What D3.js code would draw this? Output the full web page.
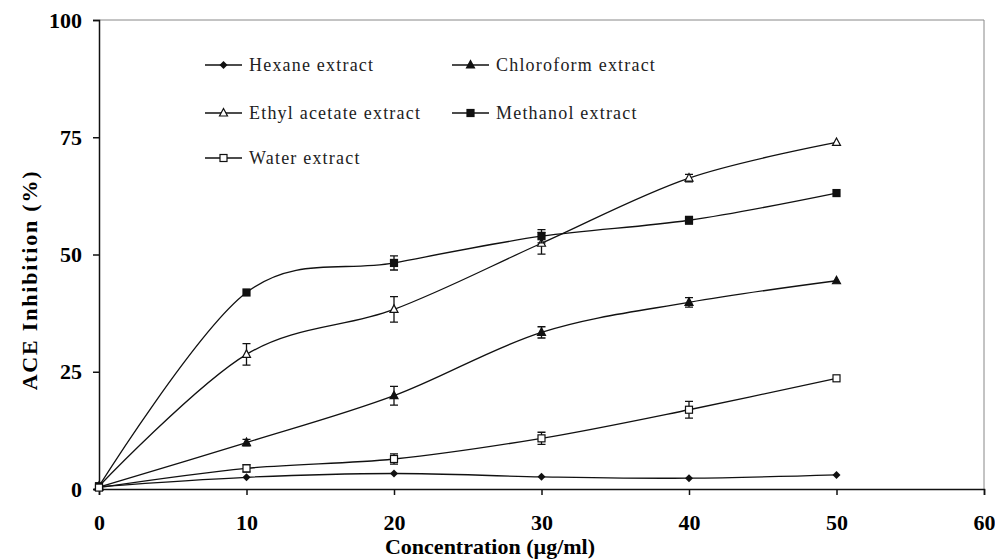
<!DOCTYPE html>
<html><head><meta charset="utf-8">
<script src="https://cdn.jsdelivr.net/npm/d3@7"></script>
<style>body{margin:0;background:#fff}svg{display:block}</style>
</head><body>
<script>
const concentrations = [0, 10, 20, 30, 40, 50];
const xTicks = [0, 10, 20, 30, 40, 50, 60];
const yTicks = [0, 25, 50, 75, 100];
const seriesNames = ["Hexane extract", "Chloroform extract", "Ethyl acetate extract", "Methanol extract", "Water extract"];
const hexane = [0.5, 2.5, 3.3, 2.6, 2.3, 3.0];
const hexaneErr = [0.3, 0.4, 0.4, 0.4, 0.4, 0.3];
const chloroform = [0.4, 9.9, 19.9, 33.4, 39.8, 44.4];
const chloroformErr = [0.3, 0.7, 2.0, 1.2, 1.0, 0.4];
const ethylAcetate = [0.6, 28.7, 38.3, 52.4, 66.3, 73.9];
const ethylAcetateErr = [0.3, 2.3, 2.7, 2.3, 0.8, 0.4];
const methanol = [0.6, 41.9, 48.2, 53.9, 57.3, 63.1];
const methanolErr = [0.3, 0.4, 1.5, 1.4, 0.8, 0.4];
const water = [0.3, 4.4, 6.4, 10.8, 16.9, 23.6];
const waterErr = [0.3, 0.8, 1.1, 1.3, 1.8, 0.4];
const markerTypes = ["diamond", "triangle", "triangleOpen", "square", "squareOpen"];

const W = 995, H = 559;
const svg = d3.select("body").append("svg").attr("width", W).attr("height", H);
const x = d3.scaleLinear().domain([0, 60]).range([99, 984]);
const y = d3.scaleLinear().domain([0, 100]).range([489, 20]);
const ink = "#111";

const series = [
  {name: seriesNames[0], v: hexane, e: hexaneErr, m: markerTypes[0]},
  {name: seriesNames[1], v: chloroform, e: chloroformErr, m: markerTypes[1]},
  {name: seriesNames[2], v: ethylAcetate, e: ethylAcetateErr, m: markerTypes[2]},
  {name: seriesNames[3], v: methanol, e: methanolErr, m: markerTypes[3]},
  {name: seriesNames[4], v: water, e: waterErr, m: markerTypes[4]}
];

// plot frame (top and right light border)
svg.append("path").attr("d", `M${x(0)},${y(100)}H${x(60)}V${y(0)}`)
  .attr("fill", "none").attr("stroke", "#888").attr("stroke-width", 1);

// axes
const xAxis = d3.axisBottom(x).tickValues(xTicks).tickSize(6).tickPadding(19).tickFormat(d3.format("d"));
const gx = svg.append("g").attr("transform", `translate(0,${y(0)})`).call(xAxis);
const yAxis = d3.axisLeft(y).tickValues(yTicks).tickSize(6).tickPadding(11).tickFormat(d3.format("d"));
const gy = svg.append("g").attr("transform", `translate(${x(0)},0)`).call(yAxis);
[gx, gy].forEach(g => {
  g.select(".domain").attr("stroke", ink).attr("stroke-width", 1.5);
  g.selectAll(".tick line").attr("stroke", ink).attr("stroke-width", 1.5);
  g.selectAll("text").attr("font-family", "Liberation Serif").attr("font-weight", "900")
    .attr("font-size", 22).attr("fill", "#000");
});

// axis titles
svg.append("text").attr("x", 490).attr("y", 554).attr("text-anchor", "middle")
  .attr("font-family", "Liberation Serif").attr("font-weight", "bold").attr("font-size", 22)
  .text("Concentration (µg/ml)");
svg.append("text").attr("transform", `translate(37,280) rotate(-90)`).attr("text-anchor", "middle")
  .attr("font-family", "Liberation Serif").attr("font-weight", "bold").attr("font-size", 22)
  .attr("letter-spacing", 1.8)
  .text("ACE Inhibition (%)");

const line = d3.line().x((d, i) => x(concentrations[i])).y(d => y(d)).curve(d3.curveCatmullRom.alpha(0));

function drawMarker(g, type, cx, cy) {
  const s = 4;
  if (type === "diamond") {
    g.append("path").attr("d", `M${cx},${cy - s}L${cx + s},${cy}L${cx},${cy + s}L${cx - s},${cy}Z`).attr("fill", ink);
  } else if (type === "triangle" || type === "triangleOpen") {
    g.append("path").attr("d", `M${cx},${cy - s - 0.5}L${cx + s},${cy + s - 1}L${cx - s},${cy + s - 1}Z`)
      .attr("fill", type === "triangle" ? ink : "#fff").attr("stroke", ink).attr("stroke-width", 1.2);
  } else {
    g.append("rect").attr("x", cx - 3.5).attr("y", cy - 3.5).attr("width", 7).attr("height", 7)
      .attr("fill", type === "square" ? ink : "#fff").attr("stroke", ink).attr("stroke-width", 1.2);
  }
}

const plot = svg.append("g");
series.forEach(s => {
  plot.append("path").attr("d", line(s.v)).attr("fill", "none").attr("stroke", ink).attr("stroke-width", 1.3);
});
series.forEach(s => {
  const g = plot.append("g");
  s.v.forEach((v, i) => {
    const cx = x(concentrations[i]);
    if (s.e[i] > 0.6) {
      const y1 = y(v + s.e[i]), y2 = y(v - s.e[i]);
      g.append("path").attr("d", `M${cx},${y1}V${y2}M${cx - 4},${y1}H${cx + 4}M${cx - 4},${y2}H${cx + 4}`)
        .attr("stroke", ink).attr("stroke-width", 1.3).attr("fill", "none");
    }
    drawMarker(g, s.m, cx, y(v));
  });
});

// legend
const legendPos = [[205, 65], [452, 65], [205, 113], [452, 113], [205, 158]];
const leg = svg.append("g");
series.forEach((s, i) => {
  const [lx, ly] = legendPos[i];
  leg.append("line").attr("x1", lx).attr("x2", lx + 37).attr("y1", ly).attr("y2", ly)
    .attr("stroke", ink).attr("stroke-width", 1.3);
  drawMarker(leg, s.m, lx + 18.5, ly);
  leg.append("text").attr("x", lx + 44).attr("y", ly + 6).attr("font-family", "Liberation Serif")
    .attr("font-size", 18).attr("letter-spacing", 1.2).attr("fill", "#222").text(s.name);
});
</script>
</body></html>
